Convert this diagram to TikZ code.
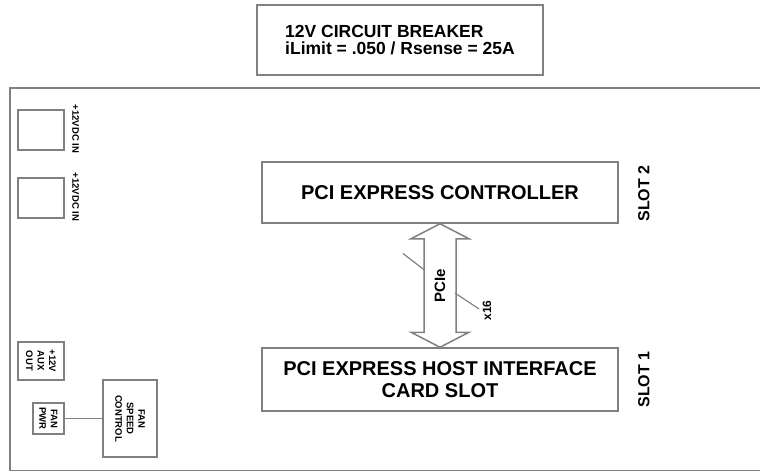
\documentclass[tikz,border=0pt]{standalone}
\usepackage{fontspec}
\setmainfont{Liberation Sans}
\usetikzlibrary{positioning,calc}
\definecolor{edgegray}{RGB}{128,128,128}

\begin{document}
\begin{tikzpicture}[
  x=1pt, y=-1pt,
  box/.style={draw=edgegray, line width=1.5pt, inner sep=0pt, align=center, font=\bfseries},
  bigtxt/.style={font=\bfseries\fontsize{20}{22}\selectfont},
  small/.style={font=\bfseries\fontsize{9.5}{11.5}\selectfont},
  slot/.style={font=\bfseries\fontsize{16}{18}\selectfont, rotate=90},
  bus/.style={draw=edgegray, line width=1.5pt, line join=miter},
  tick/.style={draw=edgegray, line width=1.2pt}
]
\useasboundingbox (0,0) rectangle (760,472);

\node[box, minimum width=286, minimum height=70, align=left,
      font=\bfseries\fontsize{17.5}{17}\selectfont] (breaker) at (400,40)
      {12V CIRCUIT BREAKER\\iLimit = .050 / Rsense = 25A};

\draw[bus] (760,88) -- (10,88) -- (10,470.5) -- (760,470.5);

\node[box, bigtxt, minimum width=356, minimum height=61] (ctrl) at (440,192.5) {PCI EXPRESS CONTROLLER};
\node[box, bigtxt, minimum width=356, minimum height=63] (host) at (440,379.5) {PCI EXPRESS HOST INTERFACE\\CARD SLOT};
\node[slot] (slot2) at ($(ctrl.east)+(25,1)$) {SLOT 2};
\node[slot] (slot1) at ($(host.east)+(25,0)$) {SLOT 1};

\draw[bus] (ctrl.south) -- ++(29,15) -- ++(-13,0) -- ($(host.north)+(16,-15)$) -- ++(13,0)
  -- (host.north) -- ++(-29,-15) -- ++(13,0) -- ($(ctrl.south)+(-16,15)$) -- ++(-13,0) -- cycle;
\node[font=\bfseries\fontsize{15}{15}\selectfont, rotate=90] (pcie) at ($(ctrl.south)!0.5!(host.north)$) {PCIe};
\draw[tick] ($(pcie)+(-37,-32)$) -- ++(22,17);
\draw[tick] ($(pcie)+(15,7.5)$) -- ++(24,16);
\node[font=\bfseries\fontsize{12}{12}\selectfont, rotate=90] (width) at ($(pcie)+(47,25)$) {x16};

\node[box, minimum width=46, minimum height=40] (dcin1) at (41,130) {};
\node[small, rotate=-90] (dcin1lbl) at ($(dcin1.east)+(11,-1)$) {+12VDC IN};
\node[box, minimum width=46, minimum height=40] (dcin2) at (41,198) {};
\node[small, rotate=-90] (dcin2lbl) at ($(dcin2.east)+(11,-1)$) {+12VDC IN};

\node[box, small, rotate=-90, minimum width=38, minimum height=46] (auxout) at (41,361) {+12V\\AUX\\OUT};
\node[box, small, rotate=-90, minimum width=31, minimum height=31] (fanpwr) at (48.5,418.5) {FAN\\PWR};
\node[box, small, rotate=-90, minimum width=77, minimum height=54] (fanctl) at (130,418.5) {FAN\\SPEED\\CONTROL};
\draw[bus] (fanpwr) -- (fanctl);
\end{tikzpicture}
\end{document}
